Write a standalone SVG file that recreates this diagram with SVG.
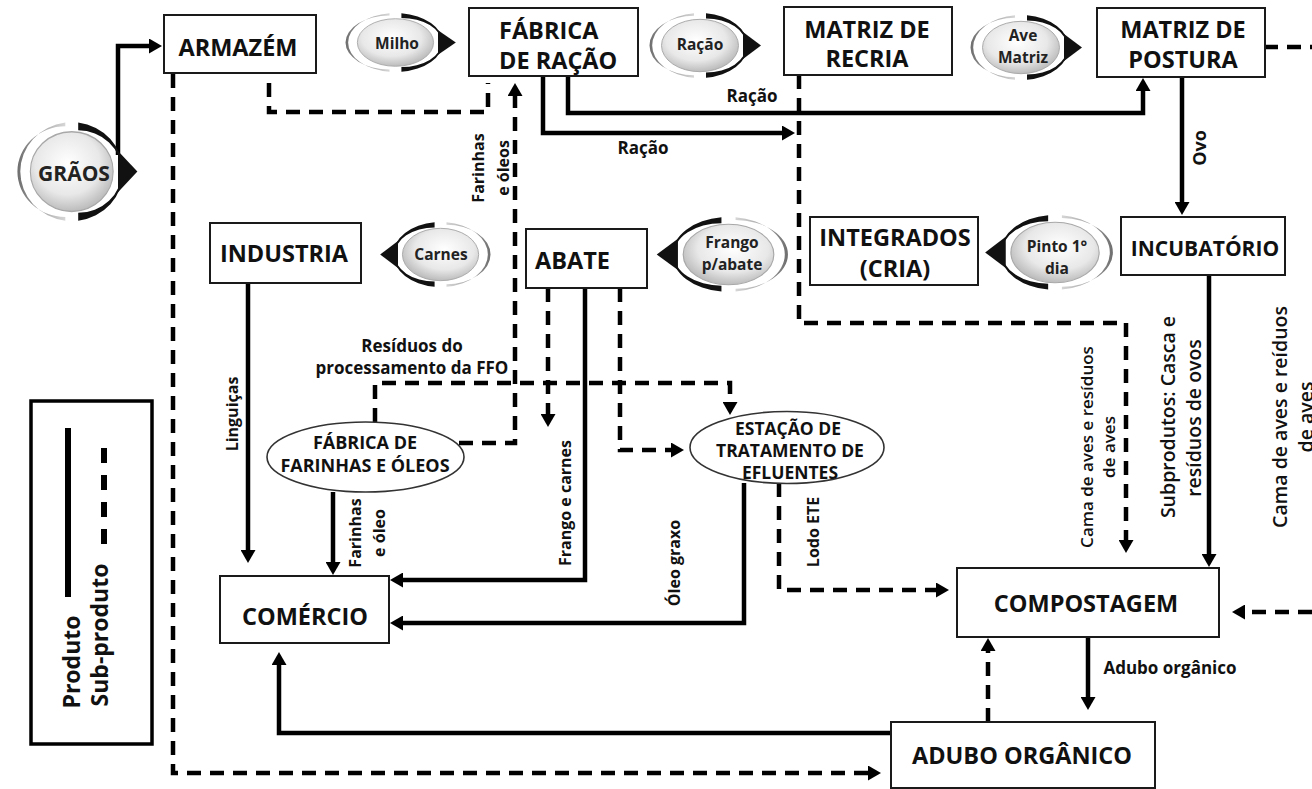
<svg xmlns="http://www.w3.org/2000/svg" xmlns:xlink="http://www.w3.org/1999/xlink" width="1312" height="789" viewBox="0 0 1312 789">
<style>
text{font-family:"Open Sans","Liberation Sans",sans-serif;font-weight:700;fill:#111;dominant-baseline:central}
.box{fill:#fff;stroke:#1a1a1a;stroke-width:2}
.bt{font-size:23.5px;text-anchor:middle}
.el{fill:#fff;stroke:#333;stroke-width:1.6}
.et{font-size:18px;text-anchor:middle}
.bd{font-size:15.5px;text-anchor:middle;fill:#222}
.lb{font-size:17px;text-anchor:middle}
.lv{font-size:16px;text-anchor:middle}
.lr{font-weight:600;text-anchor:middle}
.s{fill:none;stroke:#000;stroke-width:4.5}
.d{fill:none;stroke:#000;stroke-width:4.5;stroke-dasharray:14 9}
.a{marker-end:url(#ah)}
</style>
<defs>
<marker id="ah" viewBox="0 0 13 15" refX="3" refY="7.5" markerWidth="13" markerHeight="15" orient="auto" markerUnits="userSpaceOnUse"><path d="M0,0 L13,7.5 L0,15 Z" fill="#000"/></marker>
<radialGradient id="bg" cx="45%" cy="40%" r="60%"><stop offset="0" stop-color="#ffffff"/><stop offset="0.65" stop-color="#e8e8e8"/><stop offset="1" stop-color="#bcbcbc"/></radialGradient>
<linearGradient id="gr" x1="0" y1="0" x2="1" y2="0"><stop offset="0" stop-color="#6e6e6e"/><stop offset="0.5" stop-color="#a8a8a8"/><stop offset="1" stop-color="#d6d6d6"/></linearGradient>
<g id="badgeArt">
<ellipse cx="52" cy="40" rx="38.5" ry="29" fill="url(#bg)" stroke="#a8a8a8" stroke-width="1"/>
<path d="M46,4.3 A48,36 0 0 0 46,75.7 L46,73 A44.5,33 0 0 1 46,7 Z" fill="url(#gr)"/>
<path d="M58,4.3 A48,36 0 0 1 58,75.7 L58,70 A40.5,30 0 0 0 58,10 Z" fill="#111"/>
<path d="M95,25 L113,40 L95,55 Z" fill="#111"/>
</g>
<symbol id="bR" viewBox="0 0 116 80" preserveAspectRatio="none"><use xlink:href="#badgeArt"/></symbol>
<symbol id="bL" viewBox="0 0 116 80" preserveAspectRatio="none"><g transform="translate(116,0) scale(-1,1)"><use xlink:href="#badgeArt"/></g></symbol>
</defs>
<rect width="1312" height="789" fill="#fff"/>

<g id="connectors">
<path class="s a" d="M118,155 V46 H152"/>
<path class="d" d="M269,83 V112 H488 V83"/>
<path class="d a" d="M459,443 H515 V93"/>
<path class="s a" d="M543,76 V133 H785"/>
<path class="s a" d="M568,76 V113 H1143 V88"/>
<path class="s a" d="M1182,77 V205"/>
<path class="d" d="M1264,47 H1312"/>
<path class="d a" d="M799,75 V323 H1126 V543"/>
<path class="s a" d="M1209,275 V557"/>
<path class="d a" d="M1312,612 H1242"/>
<path class="d a" d="M173,74 V773 H871"/>
<path class="s a" d="M248,283 V553"/>
<path class="s a" d="M333,492 V565"/>
<path class="s a" d="M585,288 V580 H400"/>
<path class="s a" d="M744,483 V623 H400"/>
<path class="d a" d="M548,288 V417"/>
<path class="d a" d="M620,288 V450 H674"/>
<path class="d a" d="M375,422 V383 H730 V405"/>
<path class="d a" d="M779,483 V590 H939"/>
<path class="s a" d="M1088,637 V700"/>
<path class="d a" d="M988,722 V648"/>
<path class="s a" d="M891,733 H279 V662"/>

<text class="lb" x="752" y="95">Ração</text>
<text class="lb" x="643" y="147">Ração</text>
<text class="lb" transform="translate(1199,148) rotate(-90)" style="font-size:18px">Ovo</text>
<text class="lv" transform="translate(478,168) rotate(-90)">Farinhas</text>
<text class="lv" transform="translate(503,168) rotate(-90)">e óleos</text>
<text class="lv" transform="translate(232,414) rotate(-90)">Linguiças</text>
<text class="lb" x="412" y="345">Resíduos do</text>
<text class="lb" x="412" y="367">processamento da FFO</text>
<text class="lv" transform="translate(565,503) rotate(-90)">Frango e carnes</text>
<text class="lv" transform="translate(355,533) rotate(-90)">Farinhas</text>
<text class="lv" transform="translate(379,533) rotate(-90)">e óleo</text>
<text class="lv" transform="translate(674,563) rotate(-90)">Óleo graxo</text>
<text class="lv" transform="translate(813,532) rotate(-90)">Lodo ETE</text>
<text class="lr" transform="translate(1086,447) rotate(-90)" style="font-size:17px">Cama de aves e resíduos</text>
<text class="lr" transform="translate(1108,447) rotate(-90)" style="font-size:17px">de aves</text>
<text class="lr" transform="translate(1167,417) rotate(-90)" style="font-size:19.5px">Subprodutos: Casca e</text>
<text class="lr" transform="translate(1193,418) rotate(-90)" style="font-size:19.5px">resíduos de ovos</text>
<text class="lr" transform="translate(1279,417) rotate(-90)" style="font-size:19.5px">Cama de aves e reíduos</text>
<text class="lr" transform="translate(1305,417) rotate(-90)" style="font-size:19.5px">de aves</text>
<text class="lb" x="1170" y="667">Adubo orgânico</text>
</g>

<g id="graos">
<use xlink:href="#bR" x="15.8" y="116.6" width="124.8" height="110"/>
<text class="bd" x="74" y="173" style="font-size:21px">GRÃOS</text>
</g>
<g id="armazem">
<rect class="box" x="164" y="15" width="152" height="58"/>
<text class="bt" x="238" y="47">ARMAZÉM</text>
</g>
<g id="milho">
<use xlink:href="#bR" x="344" y="9.7" width="114.8" height="65.6"/>
<text class="bd" x="397" y="43">Milho</text>
</g>
<g id="fabrica-racao">
<rect class="box" x="469" y="8" width="169" height="68"/>
<text class="bt" x="499" y="30" style="text-anchor:start">FÁBRICA</text>
<text class="bt" x="499" y="60" style="text-anchor:start">DE RAÇÃO</text>
</g>
<g id="racao">
<use xlink:href="#bR" x="648" y="9.4" width="116" height="72.2"/>
<text class="bd" x="700" y="44">Ração</text>
</g>
<g id="matriz-recria">
<rect class="box" x="784" y="7" width="168" height="68"/>
<text class="bt" x="867" y="28.5">MATRIZ DE</text>
<text class="bt" x="867" y="58">RECRIA</text>
</g>
<g id="ave-matriz">
<use xlink:href="#bR" x="969" y="11.4" width="116" height="72.2"/>
<text class="bd" x="1023" y="35">Ave</text>
<text class="bd" x="1023" y="57">Matriz</text>
</g>
<g id="matriz-postura">
<rect class="box" x="1097" y="8" width="168" height="69"/>
<text class="bt" x="1183" y="29">MATRIZ DE</text>
<text class="bt" x="1183" y="58.5">POSTURA</text>
</g>
<g id="incubatorio">
<rect class="box" x="1121" y="217" width="164" height="58"/>
<text class="bt" x="1205" y="247.5" style="font-size:21px">INCUBATÓRIO</text>
</g>
<g id="pinto">
<use xlink:href="#bL" x="981.7" y="210.8" width="132.9" height="83.3"/>
<text class="bd" x="1057" y="246">Pinto 1°</text>
<text class="bd" x="1057" y="268">dia</text>
</g>
<g id="integrados">
<rect class="box" x="810" y="217" width="168" height="68"/>
<text class="bt" x="895" y="237">INTEGRADOS</text>
<text class="bt" x="895" y="268">(CRIA)</text>
</g>
<g id="frango">
<use xlink:href="#bL" x="653.2" y="212.8" width="136.5" height="83.3"/>
<text class="bd" x="732" y="242">Frango</text>
<text class="bd" x="732" y="264">p/abate</text>
</g>
<g id="abate">
<rect class="box" x="526" y="229" width="121" height="59"/>
<text class="bt" x="535" y="259.5" style="text-anchor:start">ABATE</text>
</g>
<g id="carnes">
<use xlink:href="#bL" x="377.2" y="218.4" width="114.8" height="72.2"/>
<text class="bd" x="441" y="254">Carnes</text>
</g>
<g id="industria">
<rect class="box" x="210" y="223" width="151" height="60"/>
<text class="bt" x="284" y="253">INDUSTRIA</text>
</g>
<g id="ffo">
<ellipse class="el" cx="365.5" cy="457" rx="98.5" ry="35"/>
<text class="et" x="365" y="442">FÁBRICA DE</text>
<text class="et" x="365" y="465">FARINHAS E ÓLEOS</text>
</g>
<g id="ete">
<ellipse class="el" cx="787" cy="447.5" rx="97" ry="36"/>
<text class="et" x="788" y="428" style="font-size:17.5px">ESTAÇÃO DE</text>
<text class="et" x="790" y="450" style="font-size:17.5px">TRATAMENTO DE</text>
<text class="et" x="790" y="472" style="font-size:17.5px">EFLUENTES</text>
</g>
<g id="comercio">
<rect class="box" x="220" y="576" width="169" height="67"/>
<text class="bt" x="305" y="616">COMÉRCIO</text>
</g>
<g id="compostagem">
<rect class="box" x="957" y="568" width="262" height="69"/>
<text class="bt" x="1086" y="603">COMPOSTAGEM</text>
</g>
<g id="adubo">
<rect class="box" x="891" y="722" width="264" height="66"/>
<text class="bt" x="1022" y="755">ADUBO ORGÂNICO</text>
</g>
<g id="legend">
<rect x="31" y="401" width="121" height="343" fill="#fff" stroke="#000" stroke-width="3.5"/>
<line x1="68" y1="428" x2="68" y2="597" stroke="#000" stroke-width="6"/>
<line x1="104" y1="448" x2="104" y2="547" stroke="#000" stroke-width="6" stroke-dasharray="15 12"/>
<text transform="translate(71,662) rotate(-90)" style="font-size:23px;text-anchor:middle">Produto</text>
<text transform="translate(99,635) rotate(-90)" style="font-size:23px;text-anchor:middle">Sub-produto</text>
</g>
</svg>
